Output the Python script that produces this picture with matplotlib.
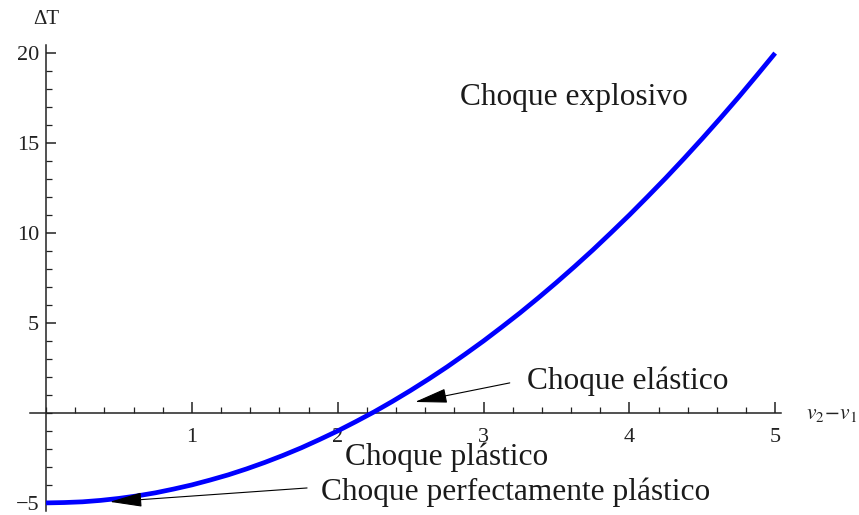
import matplotlib
matplotlib.use("Agg")
import matplotlib.pyplot as plt
from matplotlib.ticker import FixedLocator, MultipleLocator

plt.rcParams['font.family'] = ['Liberation Serif', 'DejaVu Serif']
plt.rcParams['mathtext.fontset'] = 'stix'

# values
dv = [0.0, 0.125, 0.25, 0.375, 0.5, 0.625, 0.75, 0.875, 1.0, 1.125, 1.25,
      1.375, 1.5, 1.625, 1.75, 1.875, 2.0, 2.125, 2.25, 2.375, 2.5,
      2.625, 2.75, 2.875, 3.0, 3.125, 3.25, 3.375, 3.5, 3.625, 3.75,
      3.875, 4.0, 4.125, 4.25, 4.375, 4.5, 4.625, 4.75, 4.875, 5.0]
dT = [-5.0, -4.98, -4.94, -4.86, -4.75, -4.61, -4.44, -4.23, -4.0, -3.73, -3.44,
      -3.11, -2.75, -2.36, -1.94, -1.48, -1.0, -0.48, 0.06, 0.64, 1.25,
      1.89, 2.56, 3.27, 4.0, 4.77, 5.56, 6.39, 7.25, 8.14, 9.06,
      10.02, 11.0, 12.02, 13.06, 14.14, 15.25, 16.39, 17.56, 18.77, 20.0]
x_ticks = [1, 2, 3, 4, 5]
y_ticks = [-5, 5, 10, 15, 20]

W, H = 859, 515
fig = plt.figure(figsize=(W / 100, H / 100), dpi=100)
x0, x1 = -0.11, 5.04
y0, y1 = -5.45, 20.45
left_px, right_px = 30, 781
top_px, bot_px = 45, 511
ax = fig.add_axes([left_px / W, (H - bot_px) / H, (right_px - left_px) / W, (bot_px - top_px) / H])
ax.set_xlim(x0, x1)
ax.set_ylim(y0, y1)

ax.plot(dv, dT, color=(0, 0, 1), lw=3.4, solid_capstyle='butt', solid_joinstyle='round', zorder=3)

for s in ['top', 'right']:
    ax.spines[s].set_visible(False)
ax.spines['left'].set_position(('data', 0))
ax.spines['bottom'].set_position(('data', 0))
for s in ['left', 'bottom']:
    ax.spines[s].set_color('#222222')
    ax.spines[s].set_linewidth(1.1)

ax.xaxis.set_major_locator(FixedLocator(x_ticks))
ax.xaxis.set_minor_locator(MultipleLocator(0.2))
ax.yaxis.set_major_locator(FixedLocator(y_ticks))
ax.yaxis.set_minor_locator(MultipleLocator(1))
ax.set_xticklabels([str(t) for t in x_ticks])
ax.set_yticklabels([('\u2212' + str(-t)) if t < 0 else str(t) for t in y_ticks])
ax.tick_params(axis='x', which='major', direction='in', length=8, width=1.1, color='#222222',
               labelsize=16, pad=11)
ax.tick_params(axis='x', which='minor', direction='in', length=4.5, width=0.9, color='#222222')
ax.tick_params(axis='y', which='major', direction='in', length=7, width=1.1, color='#222222',
               labelsize=16, pad=5)
ax.tick_params(axis='y', which='minor', direction='in', length=4.5, width=0.9, color='#222222')
for lab in ax.get_xticklabels() + ax.get_yticklabels():
    lab.set_color('#222222')

fig.text(46 / W, 1 - 19 / H, '\u0394T', fontsize=15, ha='center', va='center', color='#222222')
fig.text(832 / W, 1 - 414 / H, r'$v_2\!-\!v_1$', fontsize=15.5, ha='center', va='center', color='#222222')

tc = '#1a1a1a'
fs = 22.6
arrow = dict(arrowstyle='-|>,head_length=0.9,head_width=0.2', color='black',
             lw=0.8, shrinkA=0, shrinkB=0, mutation_scale=fs)
ax.text(3.62, 17.55, 'Choque explosivo', fontsize=fs, ha='center', va='center', color=tc)
ax.text(2.75, -2.44, 'Choque plástico', fontsize=fs, ha='center', va='center', color=tc)
ax.text(3.99, 1.78, 'Choque elástico', fontsize=fs, ha='center', va='center', color=tc)
ax.text(3.22, -4.39, 'Choque perfectamente plástico', fontsize=fs, ha='center', va='center', color=tc)
ax.annotate('', xy=(2.53, 0.61), xytext=(3.18, 1.67), arrowprops=arrow)
ax.annotate('', xy=(0.437, -4.94), xytext=(1.79, -4.17), arrowprops=arrow)

fig.savefig('out.png', dpi=100)
